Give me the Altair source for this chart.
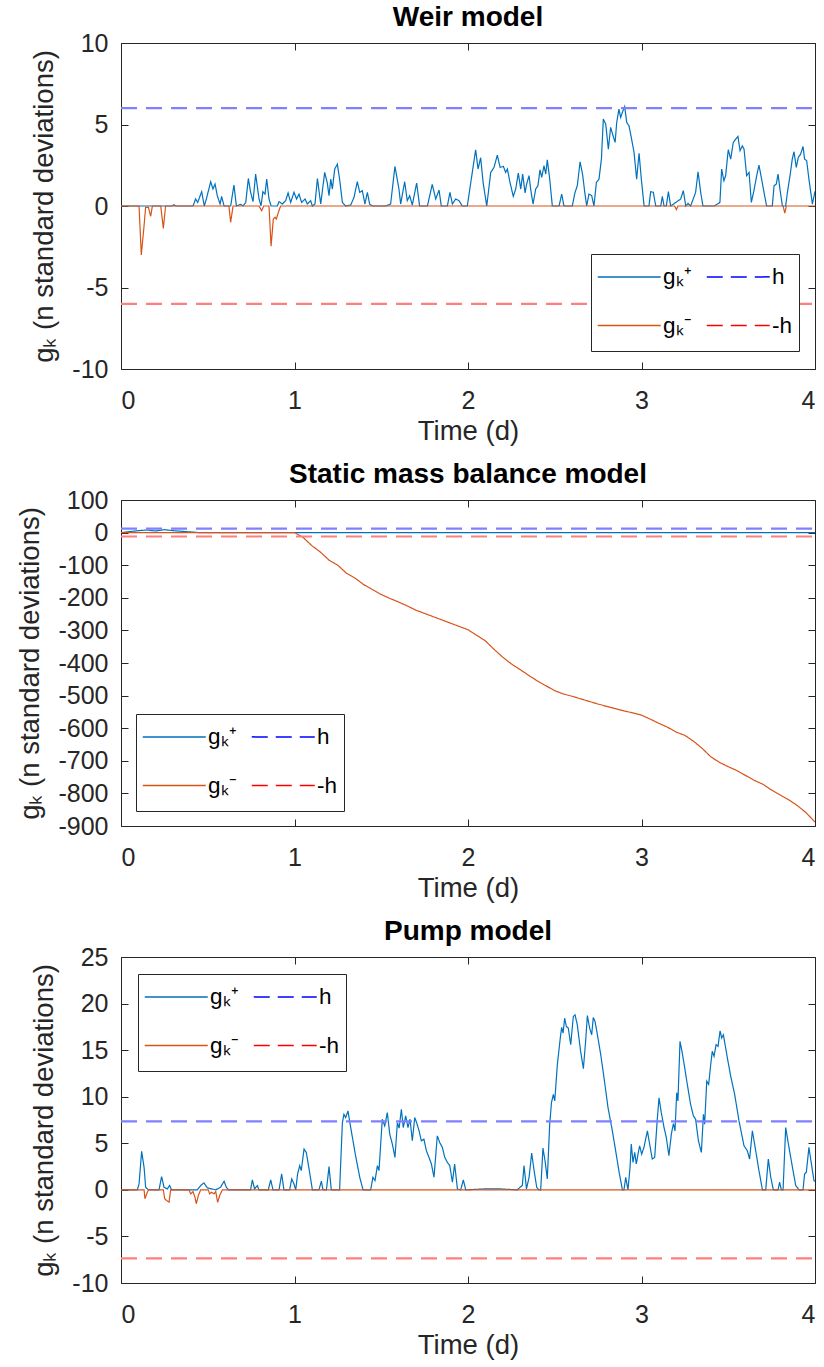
import altair as alt
import pandas as pd

FONT = "Liberation Sans"
BLUE = "#0072BD"
ORANGE = "#D95319"
H_BLUE = "#0000FF"
H_RED = "#FF0000"
H_BLUE_LIGHT = "#8080FF"
H_RED_LIGHT = "#FF7F7F"
AX = "#262626"
LBL = ["gₖ⁺", "gₖ⁻", "h", "-h"]
X_TICKS = [0, 1, 2, 3, 4]

# ---------------- Weir model ----------------
WEIR_POS_T = [0, 0.296, 0.305, 0.315, 0.415, 0.430, 0.442, 0.465, 0.480, 0.492, 0.517, 0.530, 0.542, 0.555,
              0.571, 0.580, 0.594, 0.632, 0.651, 0.665, 0.690, 0.703, 0.719, 0.734, 0.747, 0.761, 0.776, 0.795,
              0.807, 0.818, 0.830, 0.840, 0.853, 0.865, 0.901, 0.911, 0.930, 0.949, 0.963, 0.978, 0.997, 1.012,
              1.026, 1.041, 1.061, 1.074, 1.093, 1.103, 1.118, 1.132, 1.151, 1.174, 1.189, 1.199, 1.209, 1.218,
              1.232, 1.247, 1.260, 1.276, 1.295, 1.324, 1.343, 1.362, 1.376, 1.391, 1.406, 1.420, 1.433, 1.449,
              1.525, 1.554, 1.579, 1.602, 1.612, 1.635, 1.650, 1.664, 1.679, 1.704, 1.721, 1.766, 1.794, 1.814,
              1.833, 1.846, 1.881, 1.896, 1.910, 1.929, 1.948, 1.967, 1.996, 2.019, 2.044, 2.058, 2.073, 2.087,
              2.108, 2.131, 2.150, 2.169, 2.185, 2.204, 2.217, 2.227, 2.242, 2.261, 2.275, 2.290, 2.304, 2.315,
              2.329, 2.338, 2.352, 2.361, 2.375, 2.390, 2.403, 2.415, 2.425, 2.438, 2.448, 2.457, 2.471, 2.486,
              2.525, 2.540, 2.553, 2.601, 2.617, 2.630, 2.646, 2.661, 2.673, 2.684, 2.697, 2.713, 2.726, 2.740,
              2.755, 2.769, 2.780, 2.794, 2.809, 2.822, 2.836, 2.848, 2.857, 2.870, 2.880, 2.893, 2.903, 2.915,
              2.928, 2.943, 2.957, 2.972, 2.986, 2.999, 3.015, 3.043, 3.053, 3.068, 3.082, 3.111, 3.120, 3.130,
              3.143, 3.155, 3.168, 3.226, 3.241, 3.255, 3.268, 3.283, 3.312, 3.326, 3.341, 3.354, 3.418, 3.437,
              3.452, 3.462, 3.475, 3.485, 3.500, 3.514, 3.529, 3.543, 3.556, 3.568, 3.581, 3.591, 3.606, 3.620,
              3.633, 3.648, 3.664, 3.677, 3.693, 3.706, 3.721, 3.754, 3.764, 3.777, 3.787, 3.798, 3.812, 3.831,
              3.841, 3.856, 3.869, 3.879, 3.892, 3.904, 3.917, 3.931, 3.940, 3.952, 3.965, 3.985, 4.0]
WEIR_POS_G = [0, 0, 0.08, 0, 0, 0.43, 0.22, 0.88, 0, 0.43, 1.49, 1.04, 1.35, 0.63,
              0.12, 0.59, 0, 0, 1.29, 0, 0.1, 0, 0.22, 1.69, 0.84, 0.27, 1.96, 0.47,
              0, 0.88, 0.73, 1.65, 0.43, 0, 0, 0.27, 0.12, 0.33, 0.8, 0.22, 0.84, 0.43,
              0.73, 0.22, 0.43, 0.12, 0.33, 0, 0.12, 1.69, 0.12, 2.06, 1.41, 0.63, 1.65, 1.04,
              2.27, 2.57, 1.65, 0.22, 0, 0.06, 0.53, 1.49, 0.84, 0.94, 0.12, 0.84, 0.12, 0,
              0, 0.12, 2.43, 1.04, 0.12, 1.49, 0.33, 0.63, 0.06, 1.41, 0, 0, 1.33, 0.43,
              0.98, 0, 0, 0.84, 0.12, 0.43, 0.33, 0, 0, 1.65, 3.45, 2.27, 2.96, 1.45,
              0, 2.06, 2.37, 3.12, 2.37, 2.43, 2.06, 2.27, 1.45, 0.59, 1.04, 2.02, 1.04, 1.96,
              0.8, 1.35, 1.86, 1.04, 0.12, 1.04, 1.24, 2.22, 1.76, 2.47, 1.96, 2.84, 1.65, 0,
              0, 0.73, 0, 0, 0.84, 1.24, 2.71, 1.9, 0.84, 0, 0.73, 0.63, 0, 1.45,
              1.65, 2.88, 5.33, 5.02, 3.49, 4.82, 4.31, 3.9, 5.12, 5.94, 5.43, 5.84, 6.1, 5.12,
              4.92, 4.1, 3.29, 1.65, 3.24, 1.65, 0, 0, 0.88, 0.84, 0, 0, 0.59, 0,
              0, 0.88, 0, 0.43, 0.94, 0, 0.16, 0, 0.84, 2.1, 0.84, 0, 0, 0.12,
              0.22, 2.27, 1.55, 1.86, 3.45, 2.88, 3.9, 4.1, 4.27, 3.39, 3.69, 3.49, 1.86, 2.06,
              0.22, 0.94, 1.86, 2.51, 1.61, 0.84, 0, 0, 1.24, 1.35, 1.96, 1.04, 0, 0,
              0.84, 1.86, 2.88, 3.33, 2.37, 2.98, 3.18, 3.65, 2.88, 2.78, 1.65, 0.12, 0.9]
WEIR_NEG_T = [0, 0.104, 0.117, 0.133, 0.142, 0.158, 0.171, 0.181, 0.229, 0.244, 0.257, 0.622, 0.632, 0.646,
              0.795, 0.811, 0.822, 0.853, 0.865, 0.878, 0.888, 0.895, 0.907, 0.920, 3.191, 3.201, 3.210,
              3.816, 3.826, 3.835, 4.0]
WEIR_NEG_G = [0, 0, -3.0, -1.2, -0.08, -0.08, -0.63, 0, 0, -1.37, 0, 0, -1.0, 0,
              0, -0.29, 0, 0, -2.47, -0.8, -0.69, -0.8, -0.39, 0, 0, -0.22, 0,
              0, -0.43, 0, 0]
WEIR_H = 6

# ---------------- Static mass balance model ----------------
MASS_POS_T = [0, 0.05, 0.1, 0.15, 0.2, 0.25, 0.3, 0.35, 0.4, 0.45, 1.0, 4.0]
MASS_POS_G = [0, 3, 6, 8, 5, 9, 6, 4, 2, 0, 0, 0]
MASS_NEG_T = [0, 1.0, 1.05, 1.1, 1.15, 1.2, 1.25, 1.3, 1.35, 1.4, 1.45, 1.5, 1.55, 1.6, 1.65, 1.7, 1.75,
              1.8, 1.85, 1.9, 1.95, 2.0, 2.05, 2.1, 2.15, 2.2, 2.25, 2.3, 2.35, 2.4, 2.45, 2.5, 2.55,
              2.6, 2.65, 2.7, 2.75, 2.8, 2.85, 2.9, 2.95, 3.0, 3.05, 3.1, 3.15, 3.2, 3.25, 3.3, 3.35,
              3.4, 3.45, 3.5, 3.55, 3.6, 3.65, 3.7, 3.75, 3.8, 3.85, 3.9, 3.95, 4.0]
MASS_NEG_G = [0, 0, -15, -40, -60, -85, -100, -125, -140, -160, -175, -190, -202, -213, -225, -238, -248,
              -258, -268, -278, -288, -298, -315, -332, -358, -382, -403, -420, -438, -455, -470, -485, -495,
              -502, -510, -518, -526, -533, -540, -547, -553, -560, -572, -585, -597, -612, -622, -640, -662,
              -688, -705, -718, -730, -745, -760, -772, -790, -805, -820, -838, -860, -888]
MASS_H = 12

# ---------------- Pump model ----------------
PUMP_POS_T = [0, 0.094, 0.104, 0.119, 0.133, 0.142, 0.158, 0.219, 0.234, 0.248, 0.267, 0.280, 0.292, 0.440,
              0.459, 0.478, 0.498, 0.546, 0.574, 0.594, 0.607, 0.619, 0.747, 0.757, 0.770, 0.786, 0.795,
              0.849, 0.863, 0.876, 0.911, 0.926, 0.939, 0.972, 0.984, 0.997, 1.007, 1.018, 1.030, 1.039,
              1.055, 1.068, 1.084, 1.103, 1.141, 1.155, 1.164, 1.184, 1.199, 1.212, 1.260, 1.276, 1.285,
              1.295, 1.308, 1.324, 1.352, 1.376, 1.395, 1.439, 1.452, 1.464, 1.478, 1.487, 1.506, 1.520,
              1.535, 1.549, 1.564, 1.579, 1.593, 1.603, 1.616, 1.627, 1.641, 1.654, 1.666, 1.679, 1.693,
              1.704, 1.718, 1.731, 1.746, 1.760, 1.775, 1.789, 1.804, 1.823, 1.837, 1.852, 1.866, 1.881,
              1.895, 1.910, 1.923, 1.939, 1.958, 1.973, 1.987, 2.092, 2.185, 2.284, 2.300, 2.313, 2.323,
              2.337, 2.352, 2.367, 2.381, 2.396, 2.409, 2.419, 2.432, 2.444, 2.457, 2.471, 2.481, 2.492,
              2.500, 2.515, 2.534, 2.540, 2.548, 2.557, 2.567, 2.578, 2.592, 2.607, 2.617, 2.630, 2.649,
              2.665, 2.678, 2.688, 2.701, 2.713, 2.722, 2.732, 2.746, 2.765, 2.784, 2.807, 2.832, 2.851,
              2.871, 2.890, 2.899, 2.909, 2.922, 2.934, 2.941, 2.951, 2.961, 2.970, 2.980, 2.989, 3.001,
              3.014, 3.024, 3.034, 3.047, 3.062, 3.076, 3.091, 3.101, 3.114, 3.130, 3.143, 3.158, 3.172,
              3.184, 3.193, 3.203, 3.210, 3.222, 3.235, 3.249, 3.264, 3.283, 3.299, 3.312, 3.328, 3.345,
              3.357, 3.364, 3.376, 3.387, 3.400, 3.408, 3.418, 3.430, 3.441, 3.453, 3.462, 3.472, 3.495,
              3.514, 3.537, 3.562, 3.591, 3.610, 3.623, 3.639, 3.652, 3.677, 3.697, 3.716, 3.731, 3.745,
              3.760, 3.787, 3.796, 3.806, 3.816, 3.831, 3.850, 3.870, 3.889, 3.908, 3.931, 3.940, 3.950,
              3.965, 3.978, 3.994, 4.0]
PUMP_POS_G = [0, 0, 0.64, 4.13, 2.42, 0.28, 0, 0, 1.42, 0.28, 0.1, 0.46, 0, 0,
              0.46, 0.75, 0.21, 0, 0.28, 0.93, 0.28, 0, 0, 1.07, 0.1, 0.46, 0,
              0, 1.07, 0, 0, 1.71, 0, 0, 1.17, 0.64, 0, 1.71, 2.6, 2.06,
              4.38, 4.02, 2.24, 0, 0, 0.93, 0, 0, 2.49, 0, 0, 7.22, 8.11,
              7.76, 8.47, 6.69, 3.67, 1.35, 0, 0, 1.35, 1.0, 2.6, 2.06, 7.58, 6.87,
              8.29, 5.98, 4.91, 3.49, 7.22, 6.62, 8.65, 6.69, 7.94, 6.69, 7.58, 5.27, 7.76,
              7.22, 6.33, 5.27, 5.44, 4.2, 3.49, 2.78, 1.35, 5.8, 5.09, 4.56, 3.49, 2.95,
              2.6, 0.82, 2.78, 0.1, 0, 1.07, 0, 0.1, 0.1, 0, 0.28, 0.46, 2.6,
              0.1, 1.35, 3.95, 2.06, 0.28, 0, 0, 4.48, 3.13, 1.17, 7.05, 9.36, 10.25,
              9.54, 13.45, 16.65, 17.44, 16.83, 18.43, 17.54, 17.37, 15.59, 18.61, 18.79, 17.72, 14.88,
              13.02, 15.94, 18.72, 17.37, 16.65, 18.51, 18.08, 16.65, 14.52, 12.03, 8.83, 6.33, 4.2,
              1.89, 0, 0, 1.35, 0, 2.42, 4.91, 2.95, 4.02, 2.78, 3.84, 4.73, 3.84,
              4.56, 5.44, 6.33, 4.91, 3.31, 3.49, 7.58, 9.89, 8.29, 6.69, 5.62, 3.67, 5.98,
              7.12, 6.33, 10.43, 9.54, 15.94, 14.7, 13.1, 11.32, 9.18, 7.94, 7.58, 5.27, 4.02,
              8.11, 7.05, 11.67, 11.32, 13.63, 14.88, 14.34, 15.59, 15.41, 17.08, 16.3, 16.65, 14.16,
              12.21, 10.25, 7.4, 4.73, 4.2, 3.31, 6.33, 4.91, 2.06, 0, 0, 3.31, 1.35,
              0, 0, 0.82, 0, 0, 6.69, 4.56, 2.42, 0.46, 0, 0, 1.71, 1.89,
              4.56, 2.95, 1.0, 0.9]
PUMP_NEG_T = [0, 0.133, 0.138, 0.148, 0.158, 0.244, 0.252, 0.263, 0.277, 0.286, 0.392, 0.402, 0.415, 0.426,
              0.434, 0.446, 0.459, 0.503, 0.511, 0.522, 0.536, 0.546, 0.557, 0.569, 0.584, 4.0]
PUMP_NEG_G = [0, 0, -0.96, -0.43, 0, 0, -0.96, -1.14, -1.32, 0, 0, -0.43, -0.18, -0.78,
              -1.49, -0.6, 0, 0, -0.43, -0.25, -0.43, -0.18, -1.35, -0.6, 0, 0]
PUMP_H = 7.35

# legend line symbol: 63 px long, with invisible vertical extent for row height
SYMBOL_PATH = "M-1,-1.0M-1,1.0M-1,0H3"
TICK_FONT = 25
LABEL_FONT = 27.5
TITLE_FONT = 28


def panel(title, pt, pg, nt, ng, h, ydomain, yticks, lx, ly):
    xs = alt.Scale(domain=[0, 4], nice=False, zero=False)
    ys = alt.Scale(domain=ydomain, nice=False, zero=False)
    leg = alt.Legend(title=None, orient="none", legendX=lx, legendY=ly, direction="vertical", columns=2,
                     symbolType=SYMBOL_PATH, symbolSize=992, symbolStrokeWidth=1.5, symbolOpacity=1,
                     labelOffset=33, rowPadding=10, columnPadding=11, padding=6,
                     strokeColor=AX, fillColor="white", cornerRadius=0,
                     labelFont=FONT, labelFontSize=22.5, labelColor="#000000")
    solid = pd.concat([pd.DataFrame({"t": pt, "v": pg, "s": LBL[0]}),
                       pd.DataFrame({"t": nt, "v": ng, "s": LBL[1]})], ignore_index=True)
    hpos = pd.DataFrame({"t": [0, 4], "v": [h, h]})
    hneg = pd.DataFrame({"t": [0, 4], "v": [-h, -h]})

    lines = alt.Chart(solid).mark_line(clip=True, strokeWidth=1.2).encode(
        x=alt.X("t:Q", scale=xs, axis=alt.Axis(orient="bottom", values=X_TICKS, title="Time (d)",
                                               tickSize=0, labelPadding=19, titlePadding=4,
                                               labelExpr="'' + datum.value")),
        y=alt.Y("v:Q", scale=ys, axis=alt.Axis(orient="left", values=yticks, title="gₖ (n standard deviations)",
                                               tickSize=0, labelPadding=13, titlePadding=13,
                                               labelExpr="'' + datum.value")),
        color=alt.Color("s:N", scale=alt.Scale(domain=LBL, range=[BLUE, ORANGE, H_BLUE, H_RED]), legend=leg),
        strokeDash=alt.StrokeDash("s:N", scale=alt.Scale(domain=LBL, range=[[1, 0], [1, 0], [16, 8], [16, 8]]),
                                  legend=leg),
    )
    hp = alt.Chart(hpos).mark_line(clip=True, strokeWidth=2.2, color=H_BLUE_LIGHT, strokeDash=[16, 9]).encode(
        x=alt.X("t:Q", scale=xs, axis=None), y=alt.Y("v:Q", scale=ys, axis=None))
    hn = alt.Chart(hneg).mark_line(clip=True, strokeWidth=2.2, color=H_RED_LIGHT, strokeDash=[16, 9]).encode(
        x=alt.X("t:Q", scale=xs, axis=None), y=alt.Y("v:Q", scale=ys, axis=None))
    ticks_bl = alt.Chart(hpos).mark_point(opacity=0, size=1).encode(
        x=alt.X("t:Q", scale=xs, axis=alt.Axis(orient="bottom", values=X_TICKS, offset=-7, tickSize=7,
                                               labels=False, title=None, domain=False)),
        y=alt.Y("v:Q", scale=ys, axis=alt.Axis(orient="left", values=yticks, offset=-7, tickSize=7,
                                               labels=False, title=None, domain=False)),
    )
    ticks_tr = alt.Chart(hpos).mark_point(opacity=0, size=1).encode(
        x=alt.X("t:Q", scale=xs, axis=alt.Axis(orient="top", values=X_TICKS, offset=-7, tickSize=7,
                                               labels=False, title=None, domain=False)),
        y=alt.Y("v:Q", scale=ys, axis=alt.Axis(orient="right", values=yticks, offset=-7, tickSize=7,
                                               labels=False, title=None, domain=False)),
    )
    return alt.layer(lines, hp, hn, ticks_bl, ticks_tr).resolve_axis(x="independent", y="independent").properties(
        width=694, height=326, title=title)


p1 = panel("Weir model", WEIR_POS_T, WEIR_POS_G, WEIR_NEG_T, WEIR_NEG_G, WEIR_H,
           [-10, 10], [-10, -5, 0, 5, 10], 470, 211)
p2 = panel("Static mass balance model", MASS_POS_T, MASS_POS_G, MASS_NEG_T, MASS_NEG_G, MASS_H,
           [-900, 100], [-900, -800, -700, -600, -500, -400, -300, -200, -100, 0, 100], 15, 214)
p3 = panel("Pump model", PUMP_POS_T, PUMP_POS_G, PUMP_NEG_T, PUMP_NEG_G, PUMP_H,
           [-10, 25], [-10, -5, 0, 5, 10, 15, 20, 25], 17, 17)

chart = alt.vconcat(p1, p2, p3, spacing=131, bounds="flush").resolve_scale(
    y="independent", color="independent", strokeDash="independent").resolve_legend(
    color="independent", strokeDash="independent")

chart = chart.configure(font=FONT, padding={"left": 16, "top": 3, "right": 5, "bottom": 2}).configure_view(
    stroke=AX, strokeWidth=1).configure_axis(
    labelFont=FONT, labelFontSize=TICK_FONT, labelColor=AX, titleFont=FONT, titleFontSize=LABEL_FONT,
    titleColor=AX, titleFontWeight="normal", grid=False, domain=False, tickColor=AX).configure_title(
    font=FONT, fontSize=TITLE_FONT, fontWeight="bold", color="#000000", offset=-1, anchor="middle")

chart.save("out.html", embed_options={"renderer": "svg", "actions": False})
